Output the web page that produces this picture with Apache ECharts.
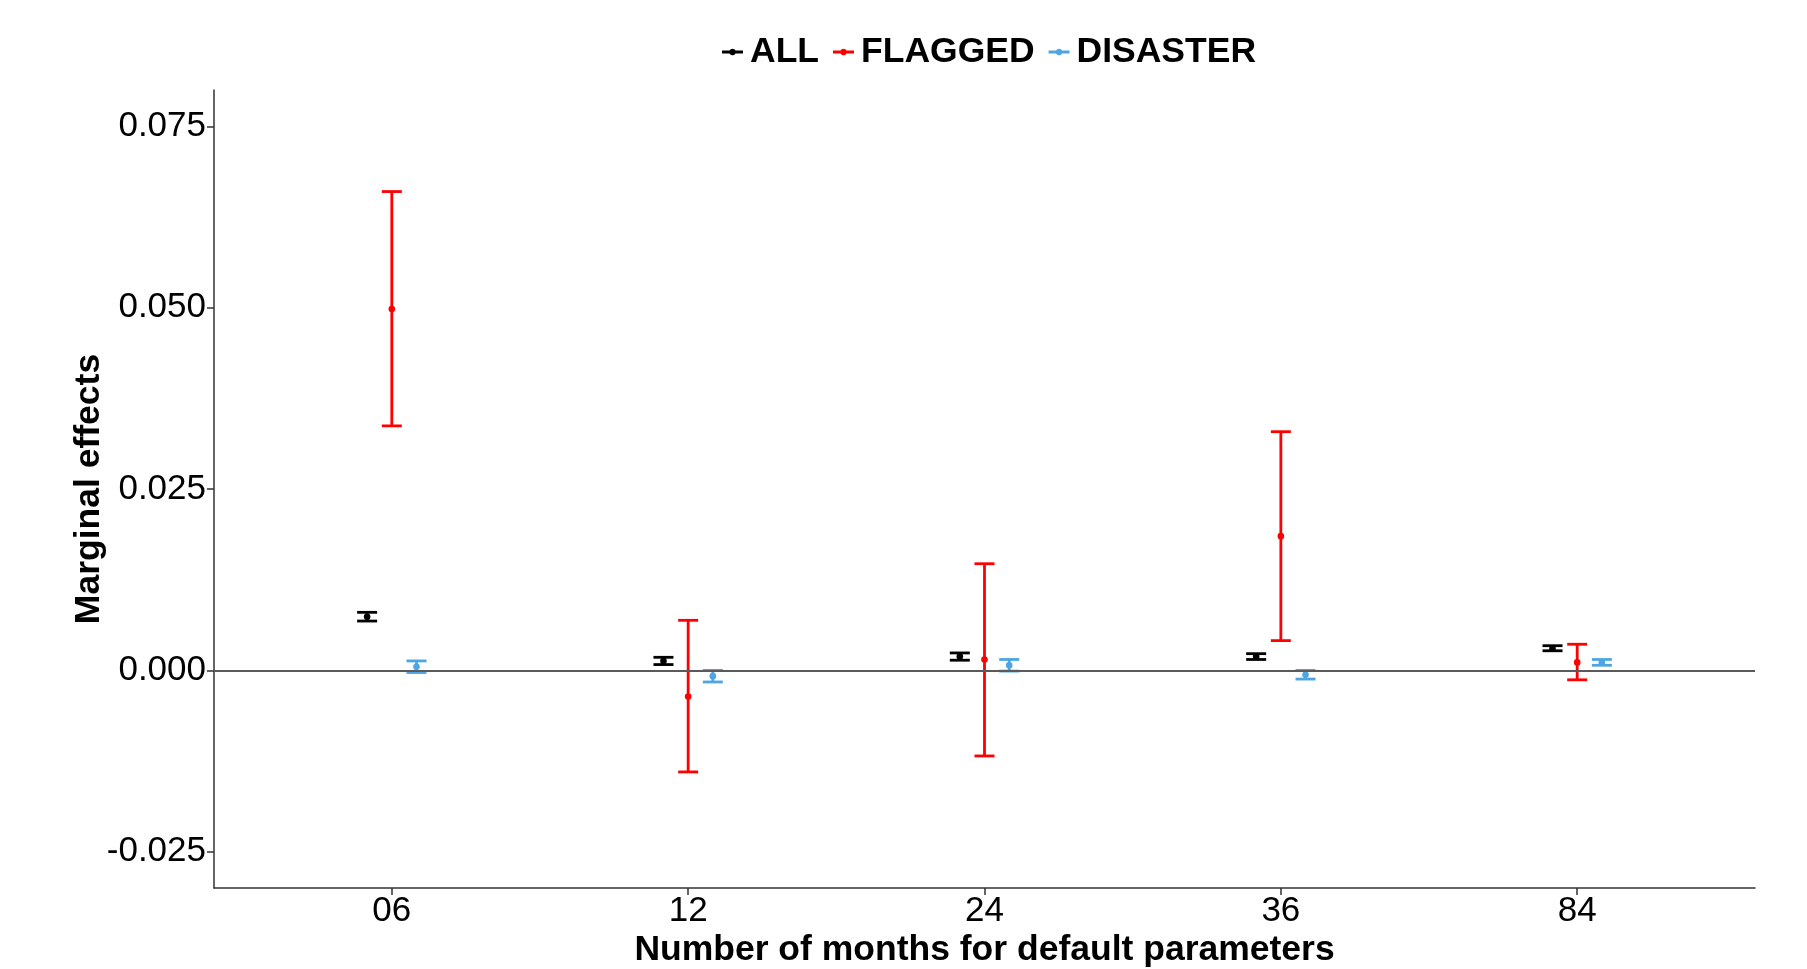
<!DOCTYPE html>
<html>
<head>
<meta charset="utf-8">
<title>Marginal effects</title>
<script src="https://cdn.jsdelivr.net/npm/echarts@6/dist/echarts.min.js"></script>
<style>
  html, body { margin: 0; padding: 0; background: #fff; }
  #chart { width: 1807px; height: 969px; }
</style>
</head>
<body>
<div id="chart"></div>
<script>
// Months horizon for the default parameters
const categories = ['06', '12', '24', '36', '84'];

// Point estimates and confidence bounds per group
const allMid      = [0.0074, 0.0013, 0.0019, 0.0019, 0.0030];
const allLow      = [0.0068, 0.0008, 0.0014, 0.0015, 0.0027];
const allHigh     = [0.0080, 0.0018, 0.0024, 0.0023, 0.0034];

const flaggedMid  = [0.0498, -0.0036, 0.0015, 0.0185, 0.0011];
const flaggedLow  = [0.0337, -0.0140, -0.0118, 0.0041, -0.0013];
const flaggedHigh = [0.0660, 0.0069, 0.0147, 0.0329, 0.0036];

const disasterMid  = [0.0005, -0.0008, 0.0007, -0.0006, 0.0011];
const disasterLow  = [-0.0003, -0.0016, -0.0001, -0.0012, 0.0007];
const disasterHigh = [0.0013, 0.0000, 0.0015, 0.0000, 0.0015];

const yTicks = [-0.025, 0, 0.025, 0.05, 0.075];

const FONT = 'Liberation Sans, Arial, Helvetica, sans-serif';

function rows(mid, low, high) {
  return categories.map((c, i) => [i, low[i], mid[i], high[i]]);
}

// Error bar with caps and a centre point, dodged horizontally per group
function makeRenderer(offset, color) {
  return function (params, api) {
    const x = api.value(0) + offset;
    const pLow = api.coord([x, api.value(1)]);
    const pMid = api.coord([x, api.value(2)]);
    const pHigh = api.coord([x, api.value(3)]);
    const half = 10;
    const lw = 2.8;
    const style = { stroke: color, lineWidth: lw, fill: null };
    return {
      type: 'group',
      children: [
        { type: 'line', shape: { x1: pLow[0], y1: pLow[1], x2: pHigh[0], y2: pHigh[1] }, style },
        { type: 'line', shape: { x1: pLow[0] - half, y1: pLow[1], x2: pLow[0] + half, y2: pLow[1] }, style },
        { type: 'line', shape: { x1: pHigh[0] - half, y1: pHigh[1], x2: pHigh[0] + half, y2: pHigh[1] }, style },
        { type: 'circle', shape: { cx: pMid[0], cy: pMid[1], r: 3.3 }, style: { fill: color, stroke: null } }
      ]
    };
  };
}

const legendIcon = 'path://M0,2 L7.5,2 A3.5,3.5 0 0 1 13.5,2 L21,2 L21,5 L13.5,5 A3.5,3.5 0 0 1 7.5,5 L0,5 Z';

function series(name, color, offset, mid, low, high) {
  return {
    name: name,
    type: 'custom',
    renderItem: makeRenderer(offset, color),
    itemStyle: { color: color },
    encode: { x: 0, y: [1, 2, 3] },
    data: rows(mid, low, high),
    z: 2
  };
}

const s = [
  series('ALL', '#000000', -0.0833, allMid, allLow, allHigh),
  series('FLAGGED', '#FF0000', 0, flaggedMid, flaggedLow, flaggedHigh),
  series('DISASTER', '#4DA6E3', 0.0833, disasterMid, disasterLow, disasterHigh)
];

// Horizontal reference at zero
s.push({
  type: 'line',
  data: [],
  silent: true,
  z: 5,
  markLine: {
    silent: true,
    symbol: 'none',
    label: { show: false },
    lineStyle: { color: '#5a5a5a', width: 2, type: 'solid' },
    data: [{ yAxis: 0 }]
  }
});

const chart = echarts.init(document.getElementById('chart'), null, { renderer: 'canvas' });
chart.setOption({
  animation: false,
  backgroundColor: '#ffffff',
  textStyle: { fontFamily: FONT },
  legend: {
    top: 29,
    left: 717,
    itemWidth: 21,
    itemHeight: 7,
    itemGap: 14,
    icon: legendIcon,
    data: ['ALL', 'FLAGGED', 'DISASTER'],
    textStyle: { fontFamily: FONT, fontSize: 35.5, fontWeight: 'bold', color: '#000', padding: [0, 0, 0, 2] }
  },
  grid: {
    left: 214,
    right: 52,
    top: 90,
    bottom: 81,
    containLabel: false,
    outerBoundsMode: 'none'
  },
  xAxis: {
    type: 'value',
    min: -0.6,
    max: 4.6,
    name: 'Number of months for default parameters',
    nameLocation: 'middle',
    nameGap: 44,
    nameMoveOverlap: false,
    nameTextStyle: { fontFamily: FONT, fontSize: 35.5, fontWeight: 'bold', color: '#000' },
    axisLine: { show: true, onZero: false, lineStyle: { color: '#333', width: 1.5 } },
    axisTick: { show: true, length: 7, customValues: [0, 1, 2, 3, 4], lineStyle: { color: '#333', width: 1.5 } },
    axisLabel: {
      customValues: [0, 1, 2, 3, 4],
      margin: 6,
      fontFamily: FONT,
      fontSize: 35,
      color: '#000',
      formatter: v => categories[Math.round(v)]
    },
    splitLine: { show: false }
  },
  yAxis: {
    type: 'value',
    min: -0.03,
    max: 0.08,
    name: 'Marginal effects',
    nameLocation: 'middle',
    nameGap: 107,
    nameMoveOverlap: false,
    nameTextStyle: { fontFamily: FONT, fontSize: 35.5, fontWeight: 'bold', color: '#000' },
    axisLine: { show: true, onZero: false, lineStyle: { color: '#333', width: 1.5 } },
    axisTick: { show: true, length: 7, customValues: yTicks, lineStyle: { color: '#333', width: 1.5 } },
    axisLabel: {
      customValues: yTicks,
      margin: 8,
      fontFamily: FONT,
      fontSize: 35,
      color: '#000',
      formatter: v => v.toFixed(3)
    },
    splitLine: { show: false }
  },
  series: s
});
</script>
</body>
</html>
